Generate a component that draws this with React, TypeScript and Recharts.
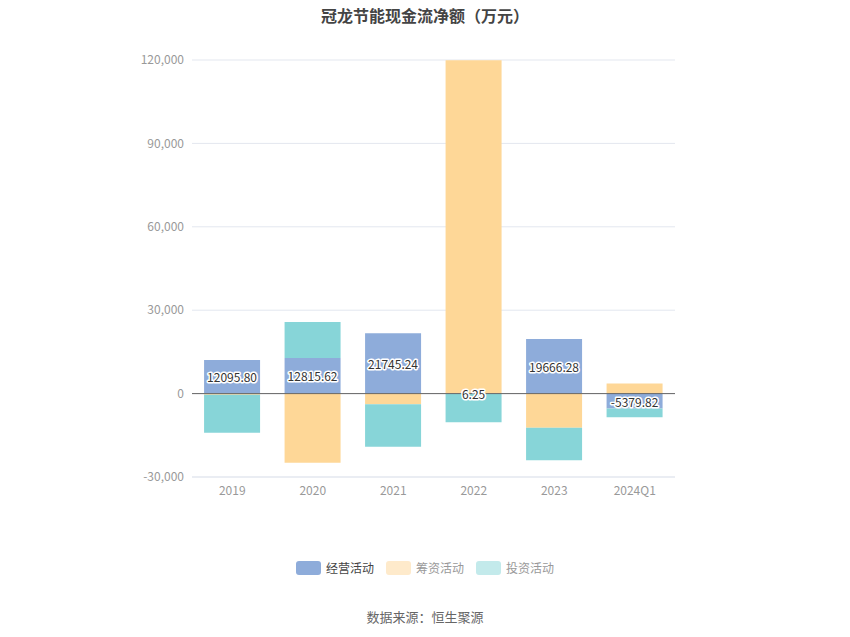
import React from 'react';
import { BarChart, Bar, XAxis, YAxis, CartesianGrid, ReferenceLine, LabelList } from 'recharts';

const categories = ['2019', '2020', '2021', '2022', '2023', '2024Q1'];
const operating = [12095.8, 12815.62, 21745.24, 6.25, 19666.28, -5379.82];
const financing = [-400, -24900, -3850, 119900, -12300, 3600];
const investing = [-13700, 12950, -15300, -10300, -11650, -3100];
const yTicks = [-30000, 0, 30000, 60000, 90000, 120000];

const seriesNames = ['经营活动', '筹资活动', '投资活动'];
const barColors = ['#8eacda', '#fed797', '#87d5d8'];
const legendColors = ['#8eacda', '#feeacb', '#c3eaeb'];
const legendText = ['#444', '#999', '#999'];

const data = categories.map((c, i) => ({
  name: c,
  op: operating[i],
  fin: financing[i],
  inv: investing[i],
}));

const FONT = '"Noto Sans CJK SC", "Microsoft YaHei", sans-serif';

const fmt = (v: number) => v.toLocaleString('en-US');

const OpLabel = (props: any) => {
  const { x, y, width, height, value } = props;
  const cx = x + width / 2;
  const cy = y + height / 2;
  return (
    <text
      x={cx}
      y={cy}
      textAnchor="middle"
      dominantBaseline="central"
      fontSize={12}
      fontFamily={FONT}
      fill="#333"
      stroke="#fff"
      strokeWidth={3}
      strokeLinejoin="round"
      paintOrder="stroke"
    >
      {Number(value).toFixed(2)}
    </text>
  );
};

export default function App() {
  return (
    <div style={{ position: 'absolute', left: 0, top: 0, width: 850, height: 637, background: '#fff', fontFamily: FONT }}>
      <div style={{ position: 'absolute', left: 0, top: 3, width: 850, textAlign: 'center', fontSize: 16, fontWeight: 'bold', color: '#444' }}>
        冠龙节能现金流净额（万元）
      </div>
      <BarChart
        width={850}
        height={637}
        data={data}
        stackOffset="sign"
        margin={{ top: 60, right: 175, bottom: 130, left: 0 }}
        barCategoryGap="15%"
      >
        <CartesianGrid vertical={false} stroke="#e3e7ef" />
        <XAxis
          dataKey="name"
          axisLine={{ stroke: '#e3e7ef' }}
          tickLine={false}
          tick={{ fill: '#999', fontSize: 12, fontFamily: FONT }}
          tickMargin={3}
        />
        <YAxis
          width={192}
          domain={[-30000, 120000]}
          ticks={yTicks}
          tickFormatter={fmt}
          axisLine={false}
          tickLine={false}
          tick={{ fill: '#999', fontSize: 12, fontFamily: FONT }}
          allowDataOverflow
        />
        <Bar dataKey="op" stackId="a" fill={barColors[0]} isAnimationActive={false}>
          <LabelList dataKey="op" content={OpLabel} />
        </Bar>
        <Bar dataKey="fin" stackId="a" fill={barColors[1]} isAnimationActive={false} />
        <Bar dataKey="inv" stackId="a" fill={barColors[2]} isAnimationActive={false} />
        <ReferenceLine y={0} stroke="#666" strokeWidth={1} />
      </BarChart>
      <div style={{ position: 'absolute', left: 0, top: 559, width: 850, display: 'flex', justifyContent: 'center', fontSize: 12 }}>
        {seriesNames.map((n, i) => (
          <div key={n} style={{ display: 'flex', alignItems: 'center', marginRight: i < 2 ? 12 : 0 }}>
            <div style={{ width: 25, height: 14, borderRadius: 3, background: legendColors[i], marginRight: 5 }} />
            <span style={{ color: legendText[i] }}>{n}</span>
          </div>
        ))}
      </div>
      <div style={{ position: 'absolute', left: 0, top: 607, width: 850, textAlign: 'center', fontSize: 13, color: '#666' }}>
        数据来源：恒生聚源
      </div>
    </div>
  );
}
